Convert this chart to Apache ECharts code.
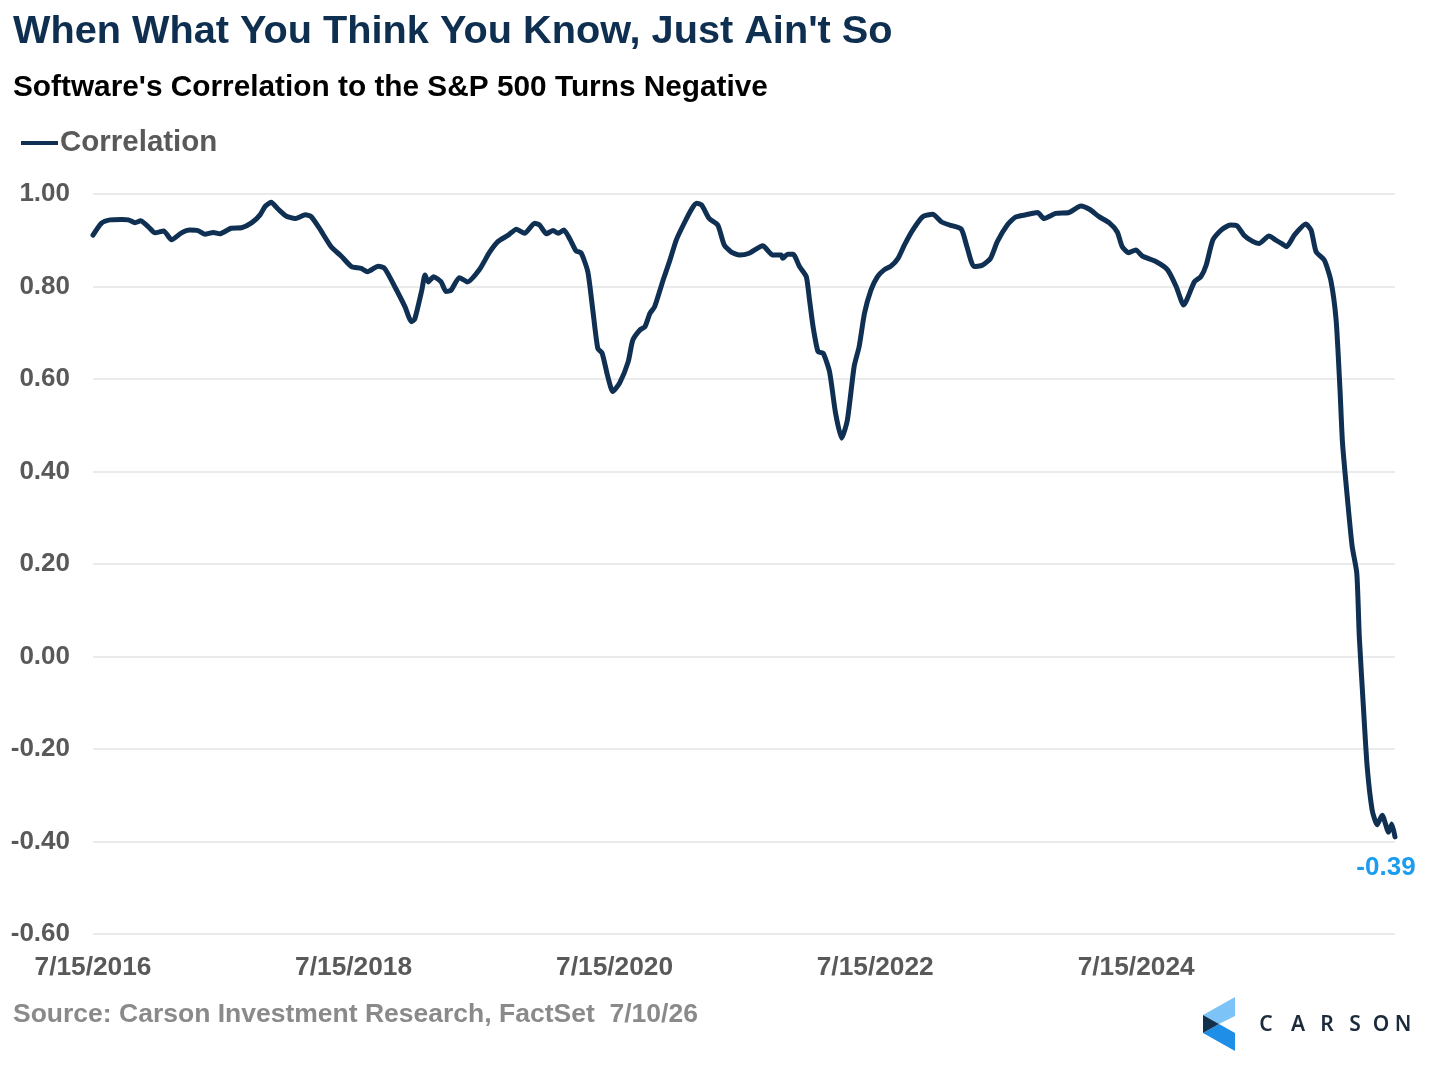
<!DOCTYPE html>
<html>
<head>
	<meta charset="utf-8">
	<title>Software Correlation</title>
	<script src="https://cdn.jsdelivr.net/npm/echarts@6/dist/echarts.min.js"></script>
	<style type="text/css">
		html, body { margin: 0; padding: 0; background-color: #fff; }
		#chartBox { width: 1430px; height: 1081px; }
	</style>
</head>
<body>
<div id="chartBox"></div>

<script>
	// readings of the rolling correlation
	const dates = [
		'2016-07-15', '2016-08-08', '2016-09-01', '2016-10-04', '2016-10-22', '2016-11-10', '2016-11-25', '2016-12-17',
		'2017-01-05', '2017-01-29', '2017-02-20', '2017-03-20', '2017-04-12', '2017-05-05', '2017-05-24', '2017-06-17',
		'2017-07-05', '2017-08-06', '2017-09-04', '2017-10-03', '2017-10-26', '2017-11-09', '2017-11-26', '2017-12-16',
		'2018-01-08', '2018-02-01', '2018-03-02', '2018-03-18', '2018-04-10', '2018-05-13', '2018-06-10', '2018-07-09',
		'2018-08-05', '2018-08-23', '2018-09-22', '2018-10-10', '2018-11-07', '2018-12-06', '2018-12-24', '2019-01-02',
		'2019-01-22', '2019-01-31', '2019-02-09', '2019-02-24', '2019-03-17', '2019-03-31', '2019-04-14', '2019-05-07',
		'2019-05-30', '2019-07-02', '2019-07-30', '2019-08-23', '2019-09-21', '2019-10-14', '2019-11-06', '2019-12-04',
		'2019-12-18', '2020-01-06', '2020-01-25', '2020-02-08', '2020-02-24', '2020-03-12', '2020-03-29', '2020-04-12',
		'2020-05-01', '2020-05-15', '2020-05-29', '2020-06-10', '2020-06-26', '2020-07-10', '2020-07-29', '2020-08-22',
		'2020-09-04', '2020-09-24', '2020-10-08', '2020-10-22', '2020-11-04', '2020-11-28', '2020-12-17', '2021-01-04',
		'2021-01-28', '2021-02-17', '2021-03-02', '2021-03-16', '2021-04-06', '2021-04-30', '2021-05-18', '2021-06-06',
		'2021-06-30', '2021-07-27', '2021-09-03', '2021-10-01', '2021-10-25', '2021-10-29', '2021-11-12', '2021-11-27',
		'2021-12-15', '2022-01-03', '2022-01-12', '2022-01-22', '2022-02-05', '2022-02-19', '2022-03-09', '2022-03-26',
		'2022-04-12', '2022-04-28', '2022-05-17', '2022-05-31', '2022-06-15', '2022-07-03', '2022-07-21', '2022-08-09',
		'2022-08-28', '2022-09-17', '2022-10-05', '2022-10-28', '2022-11-25', '2022-12-23', '2023-01-16', '2023-02-08',
		'2023-03-13', '2023-03-29', '2023-04-18', '2023-05-11', '2023-06-03', '2023-06-22', '2023-07-20', '2023-08-12',
		'2023-09-10', '2023-10-13', '2023-10-31', '2023-12-03', '2024-01-09', '2024-02-11', '2024-03-06', '2024-04-02',
		'2024-04-30', '2024-05-23', '2024-06-06', '2024-06-24', '2024-07-14', '2024-08-01', '2024-09-08', '2024-10-11',
		'2024-11-04', '2024-11-25', '2024-12-25', '2025-01-12', '2025-01-27', '2025-02-15', '2025-03-10', '2025-04-05',
		'2025-04-24', '2025-05-13', '2025-06-05', '2025-06-24', '2025-07-22', '2025-08-09', '2025-08-28', '2025-09-09',
		'2025-10-01', '2025-11-02', '2025-11-17', '2025-12-01', '2025-12-24', '2026-01-11', '2026-01-26', '2026-02-06',
		'2026-02-13', '2026-02-28', '2026-03-12', '2026-03-25', '2026-04-01', '2026-04-13', '2026-04-23', '2026-05-07',
		'2026-05-21', '2026-06-04', '2026-06-22', '2026-07-01', '2026-07-10'
	];
	const corr = [
		0.911, 0.937, 0.944, 0.945, 0.944, 0.938, 0.942, 0.929,
		0.916, 0.920, 0.901, 0.916, 0.922, 0.921, 0.913, 0.917,
		0.914, 0.926, 0.927, 0.938, 0.955, 0.973, 0.982, 0.967,
		0.952, 0.947, 0.955, 0.951, 0.926, 0.886, 0.866, 0.843,
		0.839, 0.832, 0.844, 0.839, 0.800, 0.756, 0.724, 0.729,
		0.792, 0.825, 0.810, 0.821, 0.810, 0.789, 0.792, 0.819,
		0.810, 0.836, 0.873, 0.897, 0.911, 0.924, 0.915, 0.937,
		0.933, 0.914, 0.921, 0.915, 0.922, 0.902, 0.877, 0.873,
		0.832, 0.749, 0.666, 0.656, 0.605, 0.573, 0.591, 0.637,
		0.684, 0.706, 0.713, 0.742, 0.756, 0.814, 0.857, 0.901,
		0.940, 0.969, 0.980, 0.976, 0.947, 0.933, 0.890, 0.875,
		0.868, 0.872, 0.888, 0.868, 0.868, 0.861, 0.870, 0.870,
		0.843, 0.821, 0.771, 0.713, 0.659, 0.656, 0.616, 0.526,
		0.472, 0.511, 0.627, 0.670, 0.742, 0.792, 0.821, 0.836,
		0.844, 0.861, 0.890, 0.922, 0.951, 0.956, 0.940, 0.933,
		0.924, 0.886, 0.843, 0.846, 0.861, 0.897, 0.933, 0.950,
		0.955, 0.960, 0.947, 0.958, 0.960, 0.974, 0.967, 0.951,
		0.938, 0.918, 0.886, 0.873, 0.879, 0.866, 0.854, 0.836,
		0.800, 0.760, 0.810, 0.821, 0.846, 0.901, 0.922, 0.933,
		0.931, 0.911, 0.898, 0.893, 0.909, 0.901, 0.892, 0.886,
		0.911, 0.935, 0.922, 0.875, 0.857, 0.814, 0.728, 0.576,
		0.461, 0.331, 0.238, 0.180, 0.043, -0.116, -0.238, -0.332,
		-0.364, -0.343, -0.380, -0.362, -0.390
	];
	const xTickDates = ['2016-07-15', '2018-07-15', '2020-07-15', '2022-07-15', '2024-07-15'];
	const xStart = '2016-07-15';
	const xEnd = '2026-07-10';

	const fontName = '"Liberation Sans", Arial, sans-serif';
	const DAY = 86400000;
	// days since the first date (UTC, so no DST drift)
	const toDays = function (d) { return Math.round((Date.parse(d) - Date.parse(xStart)) / DAY); };

	let chart = echarts.init(document.getElementById('chartBox'));

	let seriesData = dates.map(function (d, i) { return [toDays(d), corr[i]]; });
	let last = seriesData[seriesData.length - 1];

	let option = {
		backgroundColor: '#fff',
		animation: false,
		title: [{
			text: "When What You Think You Know, Just Ain't So",
			left: 13, top: 12, padding: 0,
			textStyle: { fontFamily: fontName, fontSize: 39.7, fontWeight: 'bold', color: '#0f2f50' }
		}, {
			text: "Software's Correlation to the S&P 500 Turns Negative",
			left: 13, top: 73, padding: 0,
			textStyle: { fontFamily: fontName, fontSize: 29.8, fontWeight: 'bold', color: '#000' }
		}, {
			text: 'Source: Carson Investment Research, FactSet  7/10/26',
			left: 13, top: 1001, padding: 0,
			textStyle: { fontFamily: fontName, fontSize: 26.5, fontWeight: 'bold', color: '#8a8a8a' }
		}],
		legend: {
			left: 21, top: 128, padding: 0,
			itemWidth: 37, itemHeight: 4, itemGap: 10,
			icon: 'rect',
			textStyle: { fontFamily: fontName, fontSize: 29.5, fontWeight: 'bold', color: '#595959', padding: [0, 0, 0, -3] },
			data: ['Correlation']
		},
		grid: { left: 93, right: 35, top: 194, bottom: 147, containLabel: false },
		xAxis: {
			type: 'value',
			min: 0,
			max: toDays(xEnd),
			axisLine: { show: false },
			axisTick: { show: false },
			splitLine: { show: false },
			axisLabel: {
				customValues: xTickDates.map(toDays),
				margin: 21,
				fontFamily: fontName, fontSize: 26.3, fontWeight: 'bold', color: '#595959',
				formatter: function (v) {
					let d = new Date(Date.parse(xStart) + v * DAY);
					return (d.getUTCMonth() + 1) + '/' + d.getUTCDate() + '/' + d.getUTCFullYear();
				}
			}
		},
		yAxis: {
			type: 'value',
			min: -0.6, max: 1.0, interval: 0.2,
			axisLine: { show: false },
			axisTick: { show: false },
			splitLine: { lineStyle: { color: '#e4e4e4', width: 1.5 } },
			axisLabel: {
				margin: 23,
				padding: [4, 0, 0, 0],
				fontFamily: fontName, fontSize: 26, fontWeight: 'bold', color: '#595959',
				formatter: function (v) { return v.toFixed(2); }
			}
		},
		series: [{
			name: 'Correlation',
			type: 'line',
			symbol: 'none',
			smooth: 0.2,
			lineStyle: { color: '#0f3052', width: 5, join: 'round', cap: 'round' },
			itemStyle: { color: '#0f3052' },
			data: seriesData,
			markPoint: {
				symbol: 'circle', symbolSize: 0,
				label: {
					show: true, position: 'bottom', distance: 18, offset: [-9, 0],
					fontFamily: fontName, fontSize: 26, fontWeight: 'bold', color: '#1a9cf0',
					formatter: function (p) { return p.value.toFixed(2); }
				},
				data: [{ coord: last, value: last[1] }]
			}
		}],
		graphic: [
			// Carson logo mark
			{ type: 'polygon', shape: { points: [[1203, 1015], [1235, 997], [1235, 1016], [1219, 1024]] }, style: { fill: '#7cc3f7' } },
			{ type: 'polygon', shape: { points: [[1203, 1033], [1219, 1024], [1235, 1033], [1235, 1051]] }, style: { fill: '#1e8ee6' } },
			{ type: 'polygon', shape: { points: [[1203, 1015], [1219, 1024], [1203, 1033]] }, style: { fill: '#13304d' } }
		].concat('CARSON'.split('').map(function (ch, i) {
			return {
				type: 'text',
				x: [1266, 1298, 1327, 1355, 1381, 1403][i], y: 1025,
				style: {
					text: ch, fill: '#1c2b3b', align: 'center', verticalAlign: 'middle',
					font: '600 21px "Noto Sans", sans-serif'
				}
			};
		}))
	};

	chart.setOption(option);
</script>
</body>
</html>
